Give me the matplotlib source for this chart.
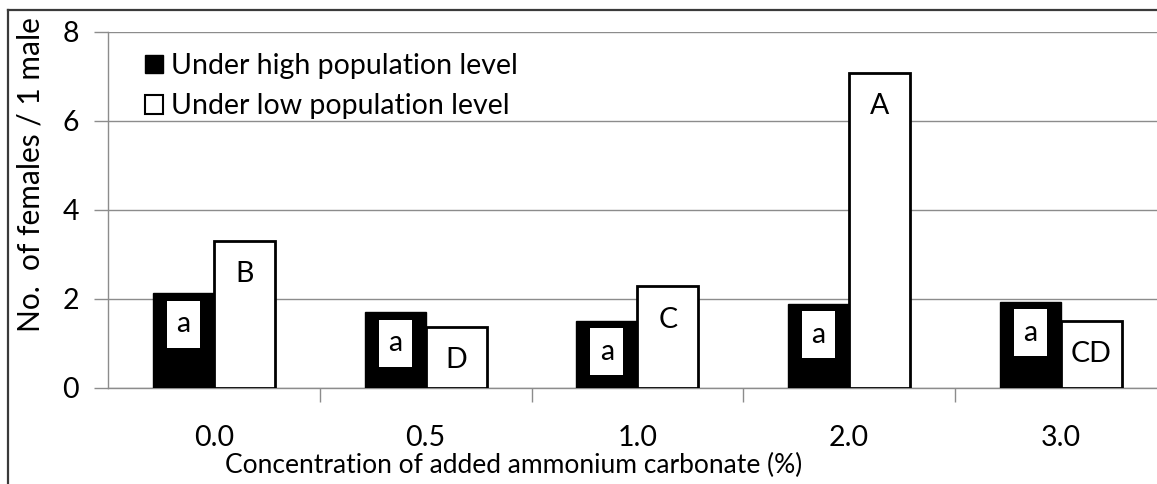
import matplotlib
matplotlib.use("Agg")
import matplotlib.pyplot as plt
from matplotlib.patches import Patch, Rectangle
from matplotlib.lines import Line2D

# Valores
concentracoes = ["0.0", "0.5", "1.0", "2.0", "3.0"]
alta_populacao = [2.12, 1.70, 1.50, 1.88, 1.93]
baixa_populacao = [3.30, 1.36, 2.27, 7.07, 1.50]
letras_alta = ["a", "a", "a", "a", "a"]
letras_baixa = ["B", "D", "C", "A", "CD"]

plt.rcParams['font.family'] = ['Lato', 'DejaVu Sans']
fs = 20.5
W, H = 1157, 484
fig = plt.figure(figsize=(W / 100, H / 100), dpi=100)
ax = fig.add_axes([108 / W, 1 - 387.5 / H, 1058.75 / W, 356 / H])

largura = 0.288
cinza = '#8c8c8c'
x = list(range(len(concentracoes)))

ax.bar([i - largura / 2 for i in x], alta_populacao, largura, color='black',
       edgecolor='black', linewidth=1, zorder=3)
ax.bar([i + largura / 2 for i in x], baixa_populacao, largura, color='white',
       edgecolor='black', linewidth=2, zorder=3)

# letras de significância
caixa_w = 33 / 211.75
caixa_h = 47 / 44.5
for i in x:
    yc = alta_populacao[i] - 0.7
    ax.add_patch(Rectangle((i - largura / 2 - caixa_w / 2, yc - caixa_h / 2), caixa_w, caixa_h,
                           facecolor='white', edgecolor='none', zorder=4))
    ax.text(i - largura / 2, yc, letras_alta[i], ha='center', va='center', fontsize=fs, zorder=5)
    ax.text(i + largura / 2, baixa_populacao[i] - 0.75, letras_baixa[i], ha='center',
            va='center', fontsize=fs, zorder=5)

ax.set_xlim(-0.5, len(x) - 0.5)
ax.set_ylim(0, 8)
ax.set_yticks([0, 2, 4, 6, 8])
ax.yaxis.grid(True, color=cinza, linewidth=1, zorder=0)
ax.set_xticks(x)
ax.set_xticklabels(concentracoes)
ax.set_xticks([i + 0.5 for i in x[:-1]], minor=True)
ax.tick_params(axis='x', which='major', length=0, pad=27, labelsize=fs)
ax.tick_params(axis='x', which='minor', length=10, color=cinza, width=1)
ax.tick_params(axis='y', length=10, color=cinza, width=1, pad=11, labelsize=fs)
for lado in ['top', 'right']:
    ax.spines[lado].set_visible(False)
for lado in ['left', 'bottom']:
    ax.spines[lado].set_color(cinza)
    ax.spines[lado].set_linewidth(1)

fig.text(514 / W, 1 - 465 / H, 'Concentration of added ammonium carbonate (%)',
         ha='center', va='center', fontsize=19)
fig.text(31 / W, 1 - 175 / H, 'No.  of females / 1 male', ha='center', va='center',
         rotation=90, fontsize=21.5)

alcas = [Patch(facecolor='black', edgecolor='black'),
         Patch(facecolor='white', edgecolor='black', linewidth=1.5)]
ax.legend(alcas, ['Under high population level', 'Under low population level'],
          loc='upper left', bbox_to_anchor=(145 / W, 1 - 53 / H), bbox_transform=fig.transFigure,
          frameon=False, fontsize=fs, handlelength=0.63, handleheight=0.63,
          handletextpad=0.3, labelspacing=0.5, borderpad=0, borderaxespad=0)

# moldura em volta do gráfico
fig.add_artist(Line2D([8 / W, 8 / W], [1 - 10 / H, 0], transform=fig.transFigure,
                      color='#3a3a3a', linewidth=1.6))
fig.add_artist(Line2D([8 / W, 1], [1 - 10 / H, 1 - 10 / H], transform=fig.transFigure,
                      color='#3a3a3a', linewidth=1.6))

fig.savefig('out.png', dpi=100)
